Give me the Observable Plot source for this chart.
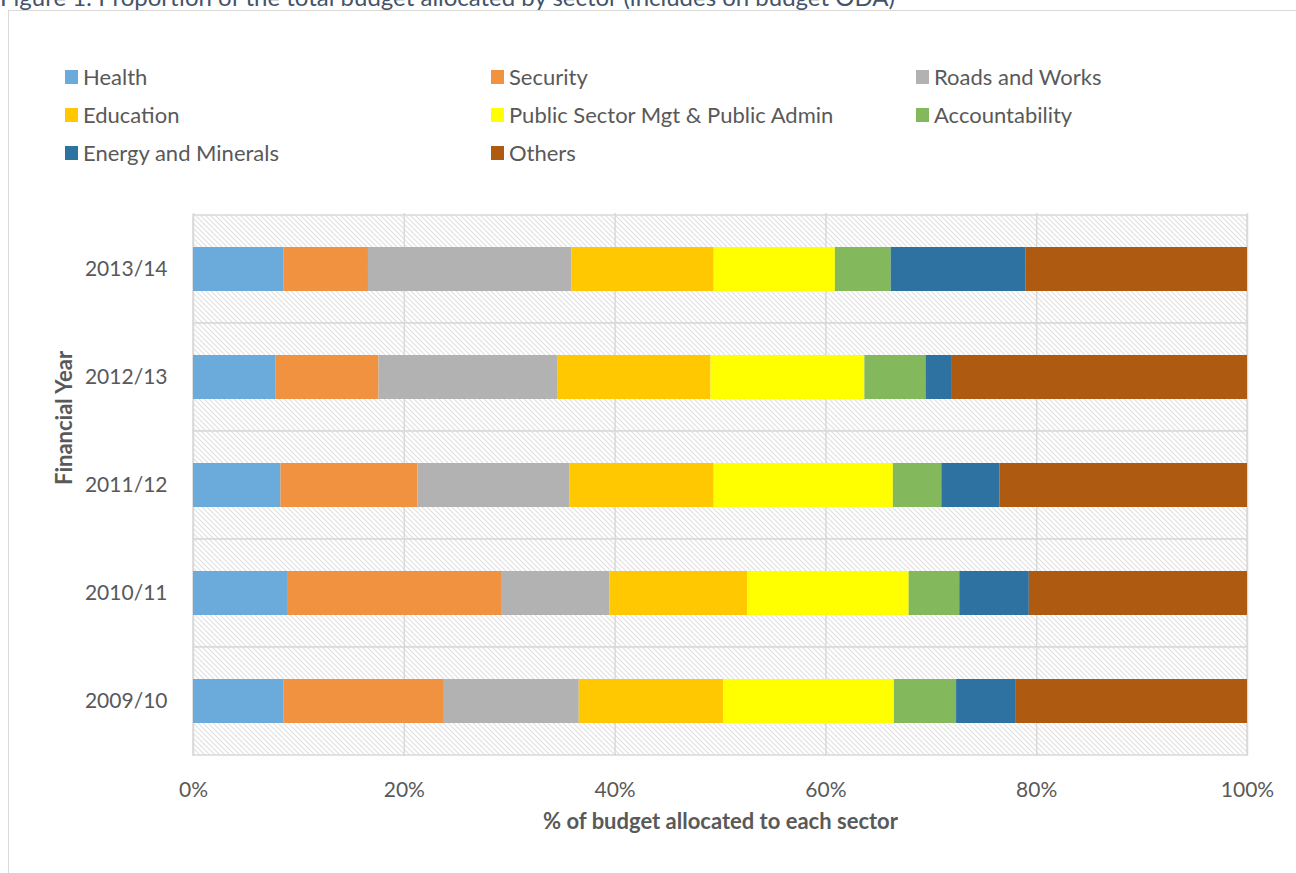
<!DOCTYPE html>
<html>
<head>
<meta charset="utf-8">
<script src="https://cdn.jsdelivr.net/npm/d3@7"></script>
<script src="https://cdn.jsdelivr.net/npm/@observablehq/plot@0.6"></script>
<style>
  html, body { margin: 0; padding: 0; background: #fff; }
  body { width: 1296px; height: 873px; position: relative; overflow: hidden; font-family: Lato, "Open Sans", sans-serif; }
  #border { position: absolute; left: 8px; top: 10px; width: 1400px; height: 1000px; border-left: 1.5px solid #d9d9d9; border-top: 1.5px solid #d9d9d9; }
  #title { position: absolute; left: 0; top: -15px; font-size: 24px; line-height: 24px; color: #44546a; white-space: nowrap; }
  #chart { position: absolute; left: 0; top: 0; }
  .lg { position: absolute; height: 14px; display: flex; align-items: center; font-size: 22px; line-height: 22px; color: #595959; white-space: nowrap; }
  .sw { display: inline-block; width: 13px; height: 14px; margin-right: 5px; flex: none; }
</style>
</head>
<body>
<div id="border"></div>
<div id="chart"></div>
<div id="title">Figure 1: Proportion of the total budget allocated by sector (includes on budget ODA)</div>
<div id="legend"></div>
<script>
// ---- Data ----
const years = ["2013/14", "2012/13", "2011/12", "2010/11", "2009/10"];
const sectors = ["Health", "Security", "Roads and Works", "Education", "Public Sector Mgt & Public Admin", "Accountability", "Energy and Minerals", "Others"];
const sectorColors = ["#6aabdc", "#f19241", "#b2b2b2", "#ffc800", "#ffff00", "#83b85c", "#2e72a2", "#ae5a10"];
const health         = [8.6, 7.8, 8.3, 9.0, 8.6];
const security       = [8.0, 9.8, 13.0, 20.3, 15.2];
const roads          = [19.3, 17.0, 14.4, 10.2, 12.8];
const education      = [13.5, 14.5, 13.7, 13.1, 13.7];
const publicSector   = [11.5, 14.6, 17.0, 15.3, 16.2];
const accountability = [5.3, 5.8, 4.6, 4.8, 5.9];
const energy         = [12.8, 2.5, 5.5, 6.6, 5.6];
const others         = [21.0, 28.0, 23.5, 20.7, 22.0];
const xTicks = [0, 20, 40, 60, 80, 100];

const seriesValues = [health, security, roads, education, publicSector, accountability, energy, others];
const rows = [];
sectors.forEach((s, i) => years.forEach((y, j) => rows.push({sector: s, year: y, value: seriesValues[i][j]})));

// ---- Legend (HTML) ----
const legendCols = [65, 491, 916];
const legendRows = [70, 108, 146];
const legend = document.getElementById("legend");
sectors.forEach((s, i) => {
  const d = document.createElement("div");
  d.className = "lg";
  d.style.left = legendCols[i % 3] + "px";
  d.style.top = legendRows[Math.floor(i / 3)] + "px";
  const sw = document.createElement("span");
  sw.className = "sw";
  sw.style.background = sectorColors[i];
  const t = document.createElement("span");
  t.textContent = s;
  d.appendChild(sw);
  d.appendChild(t);
  legend.appendChild(d);
});

// ---- Chart ----
const svg = Plot.plot({
  width: 1296,
  height: 873,
  marginLeft: 193,
  marginRight: 49,
  marginTop: 213,
  marginBottom: 117,
  style: {background: "transparent", fontFamily: "Lato, 'Open Sans', sans-serif", fontSize: "21px", color: "#595959", overflow: "visible"},
  x: {domain: [0, 100], ticks: xTicks, tickFormat: d => d + "%"},
  y: {type: "band", domain: years, padding: 0},
  color: {domain: sectors, range: sectorColors},
  marks: [
    Plot.barX(years, {x: () => 100, y: d => d, fill: "url(#hatch)", stroke: "#d9d9d9", strokeWidth: 1.5}),
    Plot.ruleX(xTicks, {stroke: "#d9d9d9", strokeWidth: 1.5}),
    Plot.barX(rows, Plot.stackX({x: "value", y: "year", fill: "sector", order: sectors, insetTop: 32, insetBottom: 32})),
    Plot.axisX({ticks: xTicks, tickSize: 0, tickPadding: 26, label: null, fontSize: 21, tickFormat: d => d + "%"}),
    Plot.axisY({tickSize: 0, tickPadding: 26, label: null, fontSize: 21}),
    Plot.text(["% of budget allocated to each sector"], {frameAnchor: "bottom", dy: 72, fontWeight: "bold", fontSize: 22, fill: "#595959"}),
    Plot.text(["Financial Year"], {frameAnchor: "left", dx: -129, rotate: -90, fontWeight: "bold", fontSize: 22, fill: "#595959"})
  ]
});
svg.insertAdjacentHTML("afterbegin",
  `<defs><pattern id="hatch" patternUnits="userSpaceOnUse" width="5" height="5">
     <rect width="5" height="5" fill="#ffffff"/>
     <path d="M0,0 L5,5 M-1,4 L1,6 M4,-1 L6,1" stroke="#e0e0e0" stroke-width="1.1"/>
   </pattern></defs>`);
document.getElementById("chart").appendChild(svg);
</script>
</body>
</html>
